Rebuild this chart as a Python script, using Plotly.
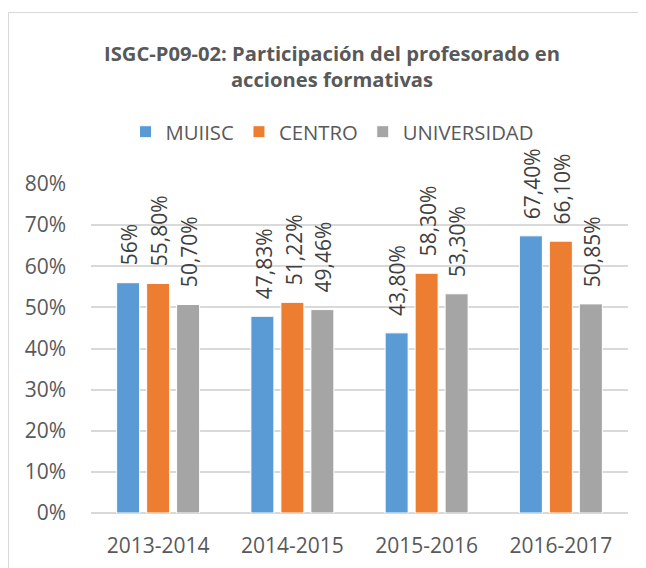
import plotly.graph_objects as go

categories = ["2013-2014", "2014-2015", "2015-2016", "2016-2017"]
series_names = ["MUIISC", "CENTRO", "UNIVERSIDAD"]
muiisc = [0.56, 0.4783, 0.438, 0.674]
centro = [0.558, 0.5122, 0.583, 0.661]
universidad = [0.507, 0.4946, 0.533, 0.5085]
muiisc_labels = ["56%", "47,83%", "43,80%", "67,40%"]
centro_labels = ["55,80%", "51,22%", "58,30%", "66,10%"]
universidad_labels = ["50,70%", "49,46%", "53,30%", "50,85%"]
tick_vals = [0, 0.1, 0.2, 0.3, 0.4, 0.5, 0.6, 0.7, 0.8]
tick_text = ["0%", "10%", "20%", "30%", "40%", "50%", "60%", "70%", "80%"]

colors = ["#5B9BD5", "#ED7D31", "#A5A5A5"]
FONT = "Open Sans"
TXT = "#595959"
OFF = 8  # page body margin shift

W, H = 646, 568
L, R, T, B = 91 - OFF, W - (628 - OFF), 184 - OFF, H - (513 - OFF)
pw = W - L - R
ph = H - T - B


def px_x(p):
    return (p - OFF - L) / pw


def px_y(p):
    return (H - B - (p - OFF)) / ph


fig = go.Figure()
all_vals = [muiisc, centro, universidad]
all_labs = [muiisc_labels, centro_labels, universidad_labels]
annotations = []
for i, (name, vals, labs, col) in enumerate(zip(series_names, all_vals, all_labs, colors)):
    fig.add_trace(go.Bar(
        x=categories, y=vals, name=name,
        marker=dict(color=col, line=dict(color="white", width=1)),
        hoverinfo="skip",
    ))
    for c, v, t in zip(categories, vals, labs):
        annotations.append(dict(
            x=c, y=v, xref="x", yref="y", text=t, showarrow=False,
            textangle=-90, xanchor="center", yanchor="bottom",
            xshift=(i - 1) * 30 + 1, yshift=15,
            font=dict(family=FONT, size=21, color="#404040"),
        ))

fig.update_layout(
    width=W, height=H,
    margin=dict(l=L, r=R, t=T, b=B, pad=0),
    paper_bgcolor="white", plot_bgcolor="white",
    barmode="group", bargap=0.33, bargroupgap=0.233,
    font=dict(family=FONT, color=TXT),
    title=dict(
        text="<b>ISGC-P09-02: Participación del profesorado en<br>acciones formativas</b>",
        x=(332 - OFF) / W, xanchor="center", xref="container",
        y=1 - (61 - OFF) / H, yanchor="bottom", yref="container",
        font=dict(family=FONT, size=20.2, color=TXT),
    ),
    legend=dict(
        orientation="h", x=(332 - OFF) / W, xanchor="center", xref="container",
        y=1 - (132 - OFF) / H, yanchor="middle", yref="container",
        font=dict(family=FONT, size=20.3, color=TXT),
        itemwidth=30, tracegroupgap=0,
    ),
    showlegend=True,
    xaxis=dict(
        showline=False, ticks="", showgrid=False, ticklabelstandoff=18,
        tickfont=dict(family=FONT, size=21, color=TXT),
    ),
    yaxis=dict(
        range=[0, 0.8], tickvals=tick_vals, ticktext=tick_text,
        showgrid=True, gridcolor="#D9D9D9", gridwidth=1.5,
        zeroline=True, zerolinecolor="#D9D9D9", zerolinewidth=1.5,
        showline=False, ticks="", ticklabelstandoff=24,
        tickfont=dict(family=FONT, size=21, color=TXT),
    ),
    annotations=annotations,
    shapes=[
        dict(type="line", xref="paper", yref="paper",
             x0=px_x(8.5), x1=px_x(8.5), y0=px_y(600), y1=px_y(12.5),
             line=dict(color="#D9D9D9", width=1), layer="below"),
        dict(type="line", xref="paper", yref="paper",
             x0=px_x(8.5), x1=px_x(700), y0=px_y(12.5), y1=px_y(12.5),
             line=dict(color="#D9D9D9", width=1), layer="below"),
    ],
)

fig.write_html("out.html")
